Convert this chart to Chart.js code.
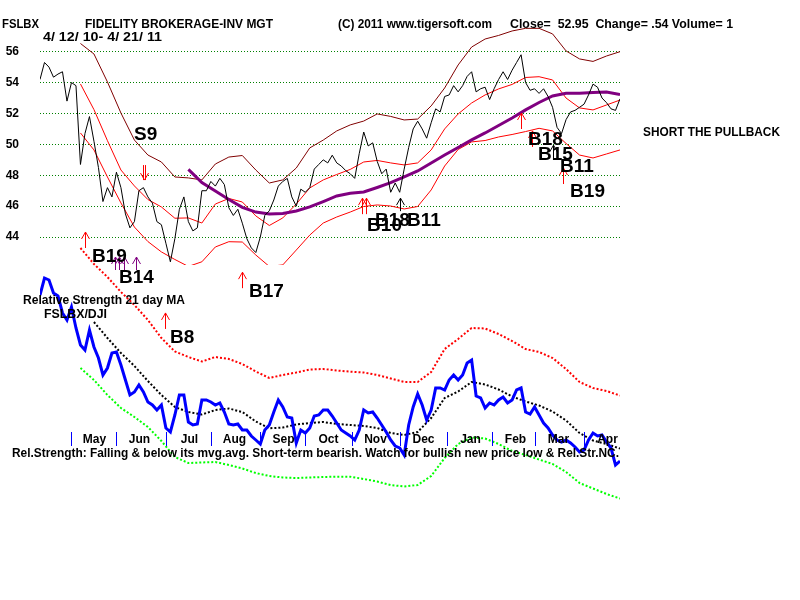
<!DOCTYPE html>
<html>
<head>
<meta charset="utf-8">
<script src="https://cdn.jsdelivr.net/npm/chart.js@4.4.0/dist/chart.umd.min.js"></script>
<style>
  body { margin: 0; background: #fff; }
  #marco { position: relative; width: 800px; height: 600px; overflow: hidden; background: #fff; }
  #marco canvas { position: absolute; left: 0; top: 0; }
  .t { position: absolute; font-family: Arial, "Liberation Sans", sans-serif; font-weight: bold;
       white-space: pre; color: #000; transform-origin: left top; }
  .g13 { font-size: 13px; line-height: 13px; }
  .g12 { font-size: 12px; line-height: 12px; }
</style>
</head>
<body>
<div id="marco">
  <canvas id="grafico" width="800" height="600"></canvas>
  <div class="t g13" data-w="37" style="left:2px;top:17px">FSLBX</div>
  <div class="t g13" data-w="188" style="left:85px;top:17px">FIDELITY BROKERAGE-INV MGT</div>
  <div class="t g13" data-w="154" style="left:338px;top:17px">(C) 2011 www.tigersoft.com</div>
  <div class="t g13" data-w="223" style="left:510px;top:17px">Close=  52.95  Change= .54 Volume= 1</div>
  <div class="t g13" data-w="119" style="left:43px;top:30px">4/ 12/ 10- 4/ 21/ 11</div>
  <div class="t g13" data-w="137" style="left:643px;top:125px">SHORT THE PULLBACK</div>
  <div class="t g12" data-w="162" style="left:23px;top:294px">Relative Strength 21 day MA</div>
  <div class="t g12" data-w="63" style="left:44px;top:308px">FSLBX/DJI</div>
  <div class="t g12" data-w="607" style="left:12px;top:447px">Rel.Strength: Falling &amp; below its mvg.avg. Short-term bearish. Watch for bullish new price low &amp; Rel.Str.NC.</div>
</div>
<script>
// Cierres, una muestra cada 2 sesiones (12 abr 2010 - 21 abr 2011)
const precio = [
  54.2, 55.3, 55.0, 54.35, 54.55, 54.7, 52.8, 54.0, 53.8, 48.7,
  50.7, 51.8, 50.2, 48.5, 46.3, 47.2, 46.6, 48.2, 47.2, 45.5,
  44.6, 45.0, 47.0, 47.2, 46.6, 46.2, 45.0, 44.8, 43.6, 42.4,
  43.9, 45.8, 46.6, 45.0, 44.4, 44.6, 47.0, 47.0, 47.6, 47.3,
  47.8, 47.4, 45.9, 45.4, 45.8, 44.9, 43.9, 43.3, 43.0, 44.0,
  45.4, 45.7, 46.4, 47.3, 47.6, 47.8, 46.6, 46.0, 47.1, 46.9,
  47.2, 48.4, 48.7, 49.0, 48.8, 49.3, 48.8, 48.6, 48.3, 48.1,
  47.8, 49.4, 50.8, 49.9, 50.1, 48.9, 48.1, 48.4, 46.9, 47.5,
  46.9, 48.4, 49.8, 51.0, 51.5, 51.0, 50.4, 51.4, 52.3, 52.1,
  53.1, 53.2, 53.8, 53.4, 53.8, 54.4, 54.7, 53.4, 53.6, 53.7,
  52.9, 53.6, 54.2, 54.7, 54.2, 54.8, 55.3, 55.8, 54.0, 53.5,
  53.6, 53.3, 53.6, 53.1, 52.4, 51.1, 50.7, 51.6, 52.1, 52.2,
  52.4, 52.6, 53.2, 53.9, 53.7, 53.0, 52.7, 52.3, 52.2, 52.95
];

// Fuerza relativa FSLBX/DJI (escala propia), una muestra cada 2 sesiones
const fuerzaRel = [
  105, 113.5, 112.5, 106, 104.5, 96, 92.5, 99, 88.5, 80,
  77.5, 87.5, 79, 73.5, 65, 68.5, 76, 76.5, 70, 62.5,
  55, 56.5, 60, 56.5, 51.5, 50, 47.5, 50, 38.5, 36.5,
  45, 55, 55, 41.5, 40, 40.5, 52.5, 52.5, 51.5, 50,
  51, 46.5, 40.5, 40, 40.5, 37.5, 37.5, 34.5, 32.5, 30.5,
  37.5, 40, 46.5, 52.5, 49, 44, 43.5, 31, 37.5, 36,
  38.5, 44.5, 45, 47.5, 47.5, 44.5, 41, 37.5, 36, 34.5,
  32.5, 37.5, 47.5, 46, 46.5, 43.5, 40, 36.5, 32.5, 29.5,
  28.5, 25, 40, 49, 55.5, 50, 42.5, 47.5, 58.5, 58.5,
  57.5, 62.5, 65, 62.5, 65, 71, 72.5, 54.5, 53.5, 48.5,
  51, 50, 52.5, 54, 51, 52.5, 57.5, 58.5, 46.5, 45.5,
  49, 45, 41, 38.5, 35, 32.5, 31.5, 32.5, 31, 29,
  26.5, 27.5, 32.5, 36, 34.5, 35, 31.5, 28.5, 20, 22
];

// Bandas y medias, una muestra cada 6 sesiones
const bandaSup = [null, null, null,
  56.53, 55.85, 54.04, 52.03, 50.28, 49.31, 48.86, 47.89, 47.83, 47.70,
  48.73, 49.18, 49.28, 48.34, 47.50, 47.70, 48.47, 49.77, 50.28, 50.87,
  51.26, 51.51, 51.97, 51.81, 51.58, 51.64, 52.49, 53.65, 55.14, 56.30,
  56.82, 57.05, 57.34, 57.51, 57.51, 57.15, 56.05, 55.53, 55.37, 55.72, 56.0];
const bandaMed = [null, null, null,
  53.91, 52.25, 50.24, 48.34, 47.31, 46.43, 45.95, 45.22, 45.24, 44.91,
  46.14, 46.50, 46.27, 45.37, 44.75, 45.24, 46.14, 47.18, 47.70, 48.05,
  48.38, 48.86, 48.96, 48.80, 48.67, 48.80, 49.64, 51.00, 51.97, 52.68,
  53.20, 53.59, 53.88, 54.33, 54.38, 54.17, 53.00, 52.36, 52.23, 52.55, 52.87];
const bandaInf = [null, null, null,
  50.74, 49.64, 47.89, 46.21, 44.65, 43.71, 43.04, 42.55, 42.1, 42.4,
  43.36, 43.70, 43.68, 42.84, 42.1, 42.2, 43.16, 44.13, 44.91, 45.30,
  45.62, 45.98, 46.08, 46.01, 45.82, 45.98, 47.05, 48.60, 49.67, 50.16,
  50.25, 50.48, 50.64, 50.83, 51.04, 50.87, 50.06, 49.31, 49.12, 49.38, 49.64];
const mediaLarga = [null, null, null, null, null, null, null, null, null, null, null,
  48.38, 47.53, 46.98, 46.43, 45.92, 45.62, 45.50, 45.53, 45.69, 45.95,
  46.30, 46.66, 46.84, 46.92, 47.21, 47.52, 47.89, 48.28, 48.80, 49.31,
  49.80, 50.29, 50.74, 51.22, 51.71, 52.23, 52.71, 53.13, 53.31, 53.31,
  53.36, 53.39, 53.23];

const rsMedia = [null, null, null, null,
  91.5, 83.5, 76, 69.5, 62, 55, 49, 46.5, 45.25, 47.5,
  48.25, 46.5, 41.75, 38.35, 38.75, 40.25, 41, 41.5, 40.5, 40,
  39.5, 38.5, 36, 35, 36.5, 43.5, 53.5, 56.75, 61.5, 60.25,
  57.75, 54.25, 51.75, 49.75, 46.75, 42.25, 36, 32.25, 30.5, 28.25];
const rsSup = [null, null, null,
  128.5, 120.5, 114, 106.5, 100, 92.5, 83.5, 76.75, 74, 71.75,
  74, 73, 70.5, 66.75, 63.5, 65, 66.25, 67.75, 68, 67.25,
  66.65, 66.25, 65, 63.25, 61.5, 61.5, 66.5, 78, 83, 88.5,
  88.25, 85.5, 82, 78, 76.5, 73.5, 68, 61.5, 58.5, 57, 54.75];
const rsInf = [null, null, null,
  68.5, 62.5, 55, 48.5, 44, 39, 32, 24, 21, 21.25,
  21.5, 20, 18.25, 16, 14.5, 13.75, 13.5, 13.75, 14, 14.15,
  14.15, 13, 11.75, 10, 9.25, 10, 14.5, 23.5, 30.5, 33.75,
  33.25, 30.5, 27, 25, 22.75, 20.5, 16.5, 11, 8.25, 5.5, 3.25];

// Eje de precios y meses (sesion en que empieza cada mes)
const precioTicks = [44, 46, 48, 50, 52, 54, 56];
const meses = ['May', 'Jun', 'Jul', 'Aug', 'Sep', 'Oct', 'Nov', 'Dec', 'Jan', 'Feb', 'Mar', 'Apr'];
const mesInicio = [14, 34, 56, 76, 98, 118, 139, 160, 181, 201, 220, 242];

// Senales: texto, sesion y precio donde va el texto
const senalTexto  = ['S9', 'B19', 'B14', 'B17', 'B8', 'B10', 'B18', 'B11', 'B18', 'B15', 'B11', 'B19'];
const senalDia    = [41.8, 23.1, 35.1, 93.0, 57.8, 145.5, 149.0, 163.3, 217.1, 221.5, 231.3, 235.8];
const senalPrecio = [50.28, 42.39, 41.06, 40.12, 37.15, 44.40, 44.73, 44.73, 49.96, 48.99, 48.21, 46.59];

// Flechas: sesion, precio de la punta, tipo (S venta, B compra, P morada, N negra)
const flechaDia    = [46.3, 20.0, 33.4, 35.1, 37.4, 42.5, 89.9, 55.6, 143.2, 145.0, 160.1, 214.0, 218.9, 228.2, 232.7];
const flechaPrecio = [47.69, 44.33, 42.71, 42.71, 42.71, 42.71, 41.73, 39.09, 46.52, 46.52, 46.52, 52.03, 50.87, 49.95, 48.47];
const flechaTipo   = ['S', 'B', 'P', 'P', 'P', 'P', 'B', 'B', 'B', 'B', 'N', 'B', 'B', 'N', 'B'];

const serie = (valores, paso) => valores.map((v, i) => ({ x: i * paso, y: v }));
const recortePrecio = { left: 0, top: 0, right: 0, bottom: -240 };
const FUENTE = 'Arial, "Liberation Sans", sans-serif';

function dibujarFlecha(ctx, px, py, tipo) {
  const estilos = {
    S: { color: '#ff0000', largo: 15, dir: -1 },
    B: { color: '#ff0000', largo: 16, dir: 1 },
    P: { color: '#800080', largo: 13, dir: 1 },
    N: { color: '#000000', largo: 13, dir: 1 }
  };
  const e = estilos[tipo];
  const x = Math.round(px) + 0.5;
  ctx.strokeStyle = e.color;
  ctx.lineWidth = 1;
  ctx.beginPath();
  if (tipo === 'S') {
    ctx.moveTo(x - 1, py); ctx.lineTo(x - 1, py - e.largo);
    ctx.moveTo(x + 1, py); ctx.lineTo(x + 1, py - e.largo);
  } else {
    ctx.moveTo(x, py); ctx.lineTo(x, py + e.dir * e.largo);
  }
  ctx.moveTo(x - 4, py + e.dir * 7);
  ctx.lineTo(x, py);
  ctx.lineTo(x + 4, py + e.dir * 7);
  ctx.stroke();
}

const anotaciones = {
  id: 'anotaciones',
  afterDatasetsDraw(chart) {
    const ctx = chart.ctx;
    const ex = chart.scales.x, ey = chart.scales.y;
    ctx.save();

    // marcas de meses sobre el panel de fuerza relativa
    ctx.strokeStyle = '#0000ff';
    ctx.lineWidth = 1;
    ctx.fillStyle = '#000';
    ctx.font = 'bold 12px ' + FUENTE;
    ctx.textAlign = 'center';
    ctx.textBaseline = 'alphabetic';
    mesInicio.forEach((d, i) => {
      const px = Math.round(ex.getPixelForValue(d)) + 0.5;
      ctx.beginPath();
      ctx.moveTo(px, 432);
      ctx.lineTo(px, 446);
      ctx.stroke();
      ctx.fillText(meses[i], px + 23, 443);
    });

    flechaDia.forEach((d, i) => {
      dibujarFlecha(ctx, ex.getPixelForValue(d), ey.getPixelForValue(flechaPrecio[i]), flechaTipo[i]);
    });

    ctx.font = 'bold 19px ' + FUENTE;
    ctx.textAlign = 'left';
    senalTexto.forEach((t, i) => {
      ctx.fillText(t, ex.getPixelForValue(senalDia[i]), ey.getPixelForValue(senalPrecio[i]));
    });
    ctx.restore();
  }
};

new Chart(document.getElementById('grafico'), {
  type: 'line',
  data: {
    datasets: [
      { data: serie(precio, 2), borderColor: '#000000', borderWidth: 1, yAxisID: 'y', clip: recortePrecio },
      { data: serie(mediaLarga, 6), borderColor: '#800080', borderWidth: 3, yAxisID: 'y', clip: recortePrecio },
      { data: serie(bandaSup, 6), borderColor: '#800000', borderWidth: 1, yAxisID: 'y', clip: recortePrecio },
      { data: serie(bandaMed, 6), borderColor: '#ff0000', borderWidth: 1, yAxisID: 'y', clip: recortePrecio },
      { data: serie(bandaInf, 6), borderColor: '#ff0000', borderWidth: 1, yAxisID: 'y', clip: recortePrecio },
      { data: serie(fuerzaRel, 2), borderColor: '#0000ff', borderWidth: 3, yAxisID: 'rs' },
      { data: serie(rsMedia, 6), borderColor: '#000000', borderWidth: 2, borderDash: [2, 2], yAxisID: 'rs' },
      { data: serie(rsSup, 6), borderColor: '#ff0000', borderWidth: 2, borderDash: [2, 2], yAxisID: 'rs' },
      { data: serie(rsInf, 6), borderColor: '#00ff00', borderWidth: 2, borderDash: [2, 2], yAxisID: 'rs' }
    ]
  },
  options: {
    responsive: false,
    animation: false,
    devicePixelRatio: 1,
    layout: { padding: { top: 20, bottom: 95, left: 0, right: 180 } },
    plugins: { legend: { display: false }, tooltip: { enabled: false } },
    elements: { point: { radius: 0 }, line: { tension: 0, fill: false } },
    scales: {
      x: { type: 'linear', min: 0, max: 258, display: false },
      y: {
        position: 'left',
        min: 26.66,
        max: 58.05,
        afterFit: s => {
          s.width = 40;
          s.paddingTop = 0;
          s.paddingBottom = 0;
        },
        afterBuildTicks: s => { s.ticks = precioTicks.map(v => ({ value: v })); },
        grid: { color: '#008000', lineWidth: 1, drawTicks: false },
        border: { display: false, dash: [1, 2] },
        ticks: { padding: 21, color: '#000', font: { family: FUENTE, weight: 'bold', size: 12 } }
      },
      rs: { position: 'right', min: 0, max: 242.5, display: false }
    }
  },
  plugins: [anotaciones]
});

// ajusta el ancho de los textos al de la imagen original
document.querySelectorAll('.t[data-w]').forEach(el => {
  const w = el.getBoundingClientRect().width;
  el.style.transform = `scaleX(${el.dataset.w / w})`;
});
</script>
</body>
</html>
